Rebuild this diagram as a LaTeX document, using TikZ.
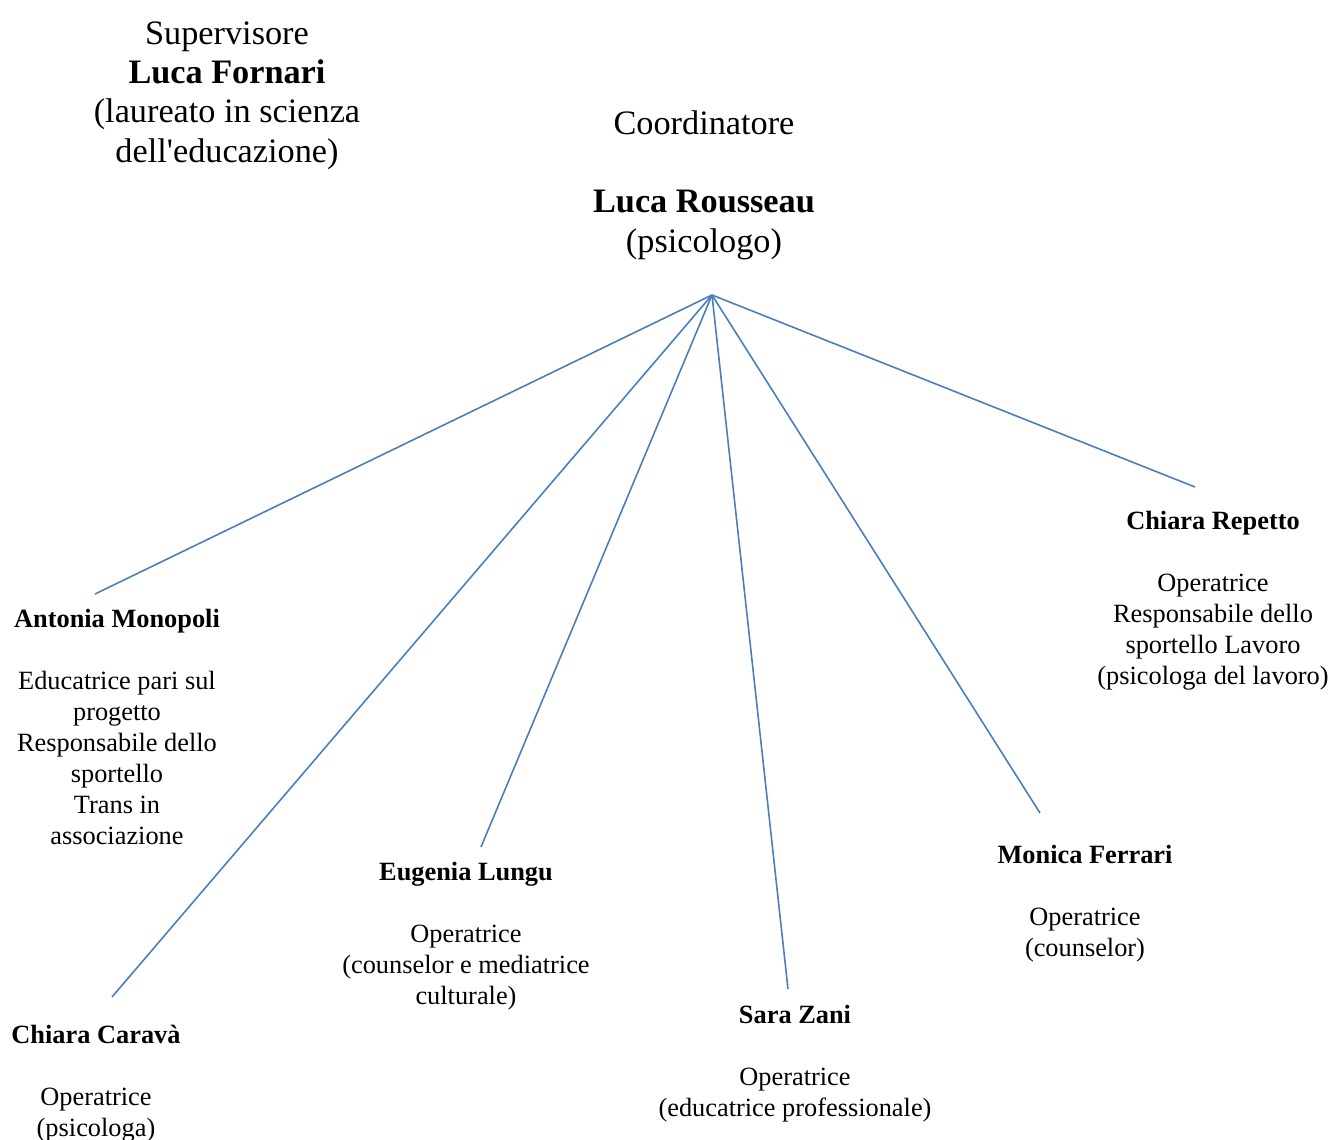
\documentclass[tikz,border=0pt]{standalone}
\usepackage{fontspec}
\setmainfont{Liberation Serif}
\usepackage{tikz}
\usetikzlibrary{positioning}
\definecolor{linkcolor}{HTML}{4A7EBB}

\tikzset{
  head/.style={align=center, inner sep=0pt, anchor=north, font=\fontsize{19.5}{22.4}\selectfont},
  person/.style={align=center, inner sep=0pt, anchor=north, font=\fontsize{15}{17.6}\selectfont},
  link/.style={linkcolor, line width=0.9pt}
}

\begin{document}
\begin{tikzpicture}[x=0.02cm, y=-0.02cm]
  \useasboundingbox (0,0) rectangle (1333,1140);
  % top of the chart
  \node[head] (sup) at (227,21) {Supervisore\\\textbf{Luca Fornari}\\(laureato in scienza\\dell\textquotesingle educazione)};
  \node[head] (coord) at (704,110) {Coordinatore\\[22.4pt]\textbf{Luca Rousseau}\\(psicologo)};
  \coordinate (hub) at (712,295);
  % people
  \node[person] (monopoli) at (117,609) {\textbf{Antonia Monopoli}\\[17.6pt]Educatrice pari sul\\progetto\\Responsabile dello\\sportello\\Trans in\\associazione};
  \node[person] (carava) at (96,1025) {\textbf{Chiara Carav\`a}\\[17.6pt]Operatrice\\(psicologa)};
  \node[person] (lungu) at (466,862) {\textbf{Eugenia Lungu}\\[17.6pt]Operatrice\\(counselor e mediatrice\\culturale)};
  \node[person] (zani) at (795,1005) {\textbf{Sara Zani}\\[17.6pt]Operatrice\\(educatrice professionale)};
  \node[person] (ferrari) at (1085,845) {\textbf{Monica Ferrari}\\[17.6pt]Operatrice\\(counselor)};
  \node[person] (repetto) at (1213,511) {\textbf{Chiara Repetto}\\[17.6pt]Operatrice\\Responsabile dello\\sportello Lavoro\\(psicologa del lavoro)};
  % line ends
  \coordinate (monopoli-end) at (95,594);
  \coordinate (carava-end) at (112,997);
  \coordinate (lungu-end) at (481,847);
  \coordinate (zani-end) at (788,989);
  \coordinate (ferrari-end) at (1040,813);
  \coordinate (repetto-end) at (1195,487);
  \foreach \p in {monopoli,carava,lungu,zani,ferrari,repetto}
    \draw[link] (hub) -- (\p-end);
\end{tikzpicture}
\end{document}
